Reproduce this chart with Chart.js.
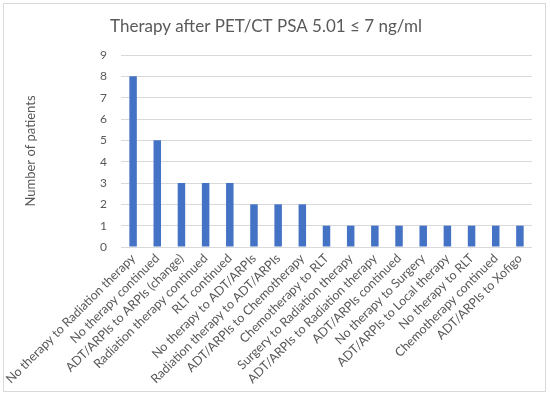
<!DOCTYPE html>
<html>
<head>
<meta charset="utf-8">
<script src="https://cdn.jsdelivr.net/npm/chart.js@4"></script>
<style>
  body { margin: 0; background: #fff; }
  #frame { position: absolute; left: 3px; top: 3px; width: 541px; height: 387px; border: 1px solid #d9d9d9; }
  #wrap { position: absolute; left: 0; top: 0; width: 550px; height: 397px; }
</style>
</head>
<body>
<div id="frame"></div>
<div id="wrap"><canvas id="therapyChart"></canvas></div>
<script>
const therapyLabels = [
    'No therapy to Radiation therapy',
    'No therapy continued',
    'ADT/ARPIs to ARPIs (change)',
    'Radiation therapy continued',
    'RLT continued',
    'No therapy to ADT/ARPIs',
    'Radiation therapy to ADT/ARPIs',
    'ADT/ARPIs to Chemotherapy',
    'Chemotherapy to RLT',
    'Surgery to Radiation therapy',
    'ADT/ARPIs to Radiation therapy',
    'ADT/ARPIs continued',
    'No therapy to Surgery',
    'ADT/ARPIs to Local therapy',
    'No therapy to RLT',
    'Chemotherapy continued',
    'ADT/ARPIs to Xofigo'
];
const patientCounts = [8, 5, 3, 3, 3, 2, 2, 2, 1, 1, 1, 1, 1, 1, 1, 1, 1];
const yMax = 9;

const textColor = '#595959';

let therapyChart = new Chart(document.getElementById('therapyChart'), {
    type: 'bar',
    data: {
        labels: therapyLabels,
        datasets: [{
            label: 'Number of patients',
            data: patientCounts,
            backgroundColor: '#4472C4',
            barPercentage: 0.31,
            categoryPercentage: 1.0
        }]
    },
    options: {
        responsive: true,
        maintainAspectRatio: false,
        animation: false,
        layout: { padding: { left: 0, right: 18, top: 0, bottom: 10 } },
        plugins: {
            legend: { display: false },
            tooltip: { enabled: false },
            title: {
                display: true,
                text: 'Therapy after PET/CT PSA 5.01 \u2264 7 ng/ml',
                color: textColor,
                font: { family: 'Lato', size: 17, weight: 'normal' },
                padding: { top: 16, bottom: 18.6 }
            }
        },
        scales: {
            x: {
                grid: { display: false, drawTicks: false },
                border: { display: false },
                ticks: {
                    color: textColor,
                    font: { family: 'Lato', size: 12.5 },
                    minRotation: 45,
                    maxRotation: 45,
                    autoSkip: false,
                    padding: 4
                },
                afterFit: scale => { scale.height = 140; }
            },
            y: {
                min: 0,
                max: yMax,
                grid: { color: '#d9d9d9', drawTicks: false },
                border: { display: false },
                ticks: {
                    stepSize: 1,
                    color: textColor,
                    font: { family: 'Lato', size: 12 },
                    padding: 14
                },
                title: {
                    display: true,
                    text: 'Number of patients',
                    color: textColor,
                    font: { family: 'Lato', size: 13 },
                    padding: { top: 23, bottom: 0 }
                },
                afterFit: scale => { scale.width = 121; }
            }
        }
    }
});
</script>
</body>
</html>
